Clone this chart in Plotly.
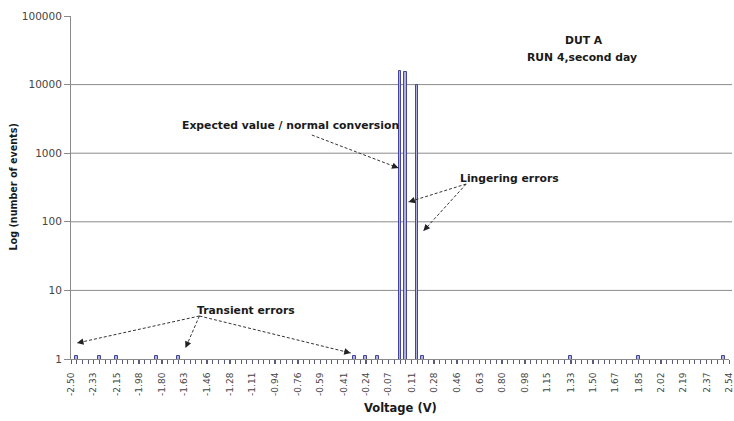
import math
import plotly.graph_objects as go

# ---------------- data ----------------
bar_voltage = [-2.457, -2.283, -2.152, -1.848, -1.674, -0.328, -0.241, -0.154,
               0.020, 0.063, 0.150, 0.194, 1.323, 1.845, 2.497]
bar_count = [1.1, 1.1, 1.1, 1.1, 1.1, 1.1, 1.1, 1.1,
             15800, 15400, 10000, 1.1, 1.1, 1.1, 1.1]
x_tick_labels = ["-2.50", "-2.33", "-2.15", "-1.98", "-1.80", "-1.63", "-1.46", "-1.28",
                 "-1.11", "-0.94", "-0.76", "-0.59", "-0.41", "-0.24", "-0.07", "0.11",
                 "0.28", "0.46", "0.63", "0.80", "0.98", "1.15", "1.33", "1.50", "1.67",
                 "1.85", "2.02", "2.19", "2.37", "2.54"]
y_tick_values = [1, 10, 100, 1000, 10000, 100000]
y_tick_labels = ["1", "10", "100", "1000", "10000", "100000"]
grid_values = [10, 100, 1000, 10000]

# ---------------- layout geometry ----------------
W, H = 734, 421
ML, MR, MT, MB = 71, 5, 16, 62
PW, PH = W - ML - MR, H - MT - MB
XR = [-2.50, 2.54]
YR = [0, 5]
BIN = (XR[1] - XR[0]) / 116.0

def to_paper(v, logc):
    return (v - XR[0]) / (XR[1] - XR[0]), (logc - YR[0]) / (YR[1] - YR[0])

fig = go.Figure()
fig.add_trace(go.Bar(
    x=bar_voltage, y=bar_count, width=BIN * 0.52,
    marker=dict(color="#aeb0dd", line=dict(color="#45459a", width=1)),
    showlegend=False, cliponaxis=True,
))

shapes = []
for g in grid_values:
    _, py = to_paper(XR[0], math.log10(g))
    shapes.append(dict(type="line", xref="paper", yref="paper", x0=0, x1=(PW + MR - 2) / PW,
                       y0=py, y1=py, line=dict(color="#8a8a8a", width=1), layer="below"))

ann_font = dict(family="DejaVu Sans", size=10.8, color="#1a1a1a")
annotations = [
    dict(text="<b>DUT A</b>", x=1.427, y=4.636),
    dict(text="<b>RUN 4,second day</b>", x=1.411, y=4.395),
    dict(text="<b>Expected value / normal conversion</b>", x=-0.8225, y=3.411),
    dict(text="<b>Lingering errors</b>", x=0.855, y=2.631),
    dict(text="<b>Transient errors</b>", x=-1.158, y=0.714),
]
for a in annotations:
    a.update(xref="x", yref="y", showarrow=False, font=ann_font,
             xanchor="center", yanchor="middle")

# arrows: (tail voltage, tail log10 count) -> (head voltage, head log10 count)
arrows = [
    ((-0.655, 3.265), (0.0086, 2.784)),
    ((0.527, 2.551), (0.0848, 2.289)),
    ((0.527, 2.551), (0.1992, 1.866)),
    ((-1.5164, 0.627), (-2.454, 0.233)),
    ((-1.5164, 0.627), (-1.623, 0.160)),
    ((-1.5164, 0.627), (-0.3574, 0.087)),
]
for (tv, tl), (hv, hl) in arrows:
    tx, ty = to_paper(tv, tl)
    hx, hy = to_paper(hv, hl)
    shapes.append(dict(type="line", xref="paper", yref="paper", x0=tx, y0=ty, x1=hx, y1=hy,
                       line=dict(color="#333333", width=1, dash="3px,2px")))
    dxp = (hx - tx) * PW
    dyp = -(hy - ty) * PH
    ln = math.hypot(dxp, dyp)
    annotations.append(dict(xref="paper", yref="paper", x=hx, y=hy, text="",
                            showarrow=True, arrowhead=2, arrowsize=1.3, arrowwidth=1,
                            arrowcolor="#222222", ax=-dxp / ln * 8, ay=-dyp / ln * 8))

# axis titles
annotations.append(dict(text="<b>Voltage (V)</b>", xref="paper", yref="paper",
                        x=(400 - ML) / PW, y=(MT + PH - 408) / PH, showarrow=False,
                        font=dict(family="DejaVu Sans", size=11.5, color="#1a1a1a"),
                        xanchor="center", yanchor="middle"))
annotations.append(dict(text="<b>Log (number of events)</b>", xref="paper", yref="paper",
                        x=(13 - ML) / PW, y=0.5, showarrow=False, textangle=-90,
                        font=dict(family="DejaVu Sans", size=9.6, color="#1a1a1a"),
                        xanchor="center", yanchor="middle"))

fig.update_layout(
    width=W, height=H,
    margin=dict(l=ML, r=MR, t=MT, b=MB, pad=0, autoexpand=False),
    paper_bgcolor="white", plot_bgcolor="white",
    shapes=shapes, annotations=annotations,
    bargap=0,
    xaxis=dict(
        range=XR, showgrid=False, zeroline=False, automargin=False,
        showline=True, linecolor="#8a8a8a", linewidth=1,
        tickmode="array", tickvals=[float(s) for s in x_tick_labels], ticktext=x_tick_labels,
        tickangle=-90, ticks="outside", ticklen=4, tickcolor="#5a5a7a",
        ticklabelstandoff=5, ticklabeloverflow="allow",
        tickfont=dict(family="DejaVu Sans", size=9, color="#444444"),
        minor=dict(ticks="outside", ticklen=4, tickcolor="#5a5a7a",
                   tick0=XR[0], dtick=BIN, showgrid=False),
    ),
    yaxis=dict(
        type="log", range=YR, showgrid=False, zeroline=False, automargin=False,
        showline=True, linecolor="#8a8a8a", linewidth=1,
        tickmode="array", tickvals=y_tick_values, ticktext=y_tick_labels,
        ticks="outside", ticklen=6, tickcolor="#8a8a8a",
        tickfont=dict(family="DejaVu Sans", size=10.5, color="#444444"),
    ),
)

fig.write_html(
    "out.html",
    config={"displayModeBar": False},
    post_script="document.body.style.margin='0';document.body.style.overflow='hidden';",
)
